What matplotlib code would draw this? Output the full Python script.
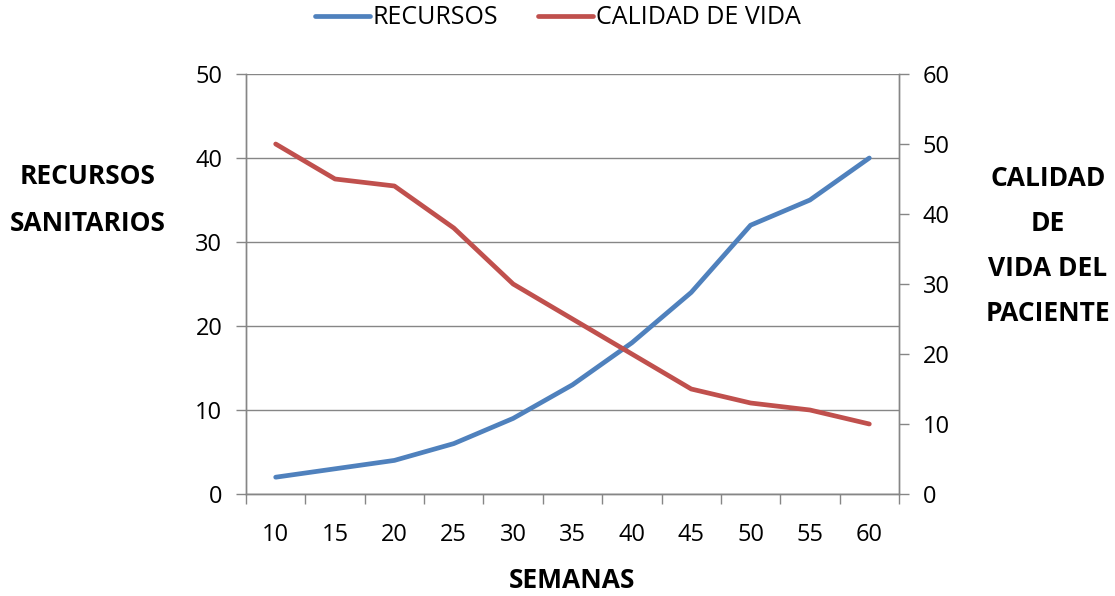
import numpy as np
import matplotlib
matplotlib.use("Agg")
import matplotlib.pyplot as plt

plt.rcParams['font.family'] = ['Open Sans', 'DejaVu Sans']

semanas = [10, 15, 20, 25, 30, 35, 40, 45, 50, 55, 60]
recursos = [2, 3, 4, 6, 9, 13, 18, 24, 32, 35, 40]
calidad = [50, 45, 44, 38, 30, 25, 20, 15, 13, 12, 10]

azul = "#4F81BD"
rojo = "#C0504D"
gris = "#868686"

fig = plt.figure(figsize=(11.15, 5.96), dpi=100)
ax = fig.add_axes([246/1115, 1-494/596, (899-246)/1115, (494-74)/596])
ax2 = ax.twinx()

x = np.arange(len(semanas))
l1, = ax.plot(x, recursos, color=azul, lw=3.4, solid_capstyle="round", label="RECURSOS")
l2, = ax2.plot(x, calidad, color=rojo, lw=3.4, solid_capstyle="round", label="CALIDAD DE VIDA")

ax.set_xlim(-0.5, len(semanas) - 0.5)
ax.set_ylim(0, 50)
ax2.set_ylim(0, 60)
ax.set_yticks(range(0, 51, 10))
ax2.set_yticks(range(0, 61, 10))
ax.set_xticks(x)
ax.set_xticklabels([str(s) for s in semanas])
ax.set_xticks(np.arange(-0.5, len(semanas), 1), minor=True)
ax.tick_params(axis="x", which="major", length=0, pad=21, labelsize=17)
ax.tick_params(axis="x", which="minor", length=7, color=gris, width=1)
ax.tick_params(axis="y", length=7, color=gris, width=1, labelsize=17, pad=10)
ax2.tick_params(axis="y", length=7, color=gris, width=1, labelsize=17, pad=10)

for a in (ax, ax2):
    for s in a.spines.values():
        s.set_color(gris)
        s.set_linewidth(1)
    a.spines["top"].set_visible(False)

ax.yaxis.grid(True, color=gris, lw=1)
ax.set_axisbelow(True)

fig.text(88/1115, 1-200/596, "RECURSOS\nSANITARIOS", ha="center", va="center",
         fontsize=19, fontweight="bold", linespacing=1.95)
fig.text(1048/1115, 1-246/596, "CALIDAD\nDE\nVIDA DEL\nPACIENTE", ha="center", va="center",
         fontsize=19, fontweight="bold", linespacing=1.85)
fig.text(572/1115, 1-581/596, "SEMANAS", ha="center", va="center",
         fontsize=19, fontweight="bold")

fig.legend([l1, l2], ["RECURSOS", "CALIDAD DE VIDA"], loc="center", ncol=2,
           bbox_to_anchor=(558/1115, 1-18/596), frameon=False, fontsize=18,
           handlelength=2.2, handletextpad=0.1, columnspacing=1.6)

fig.savefig("out.png", dpi=100)
